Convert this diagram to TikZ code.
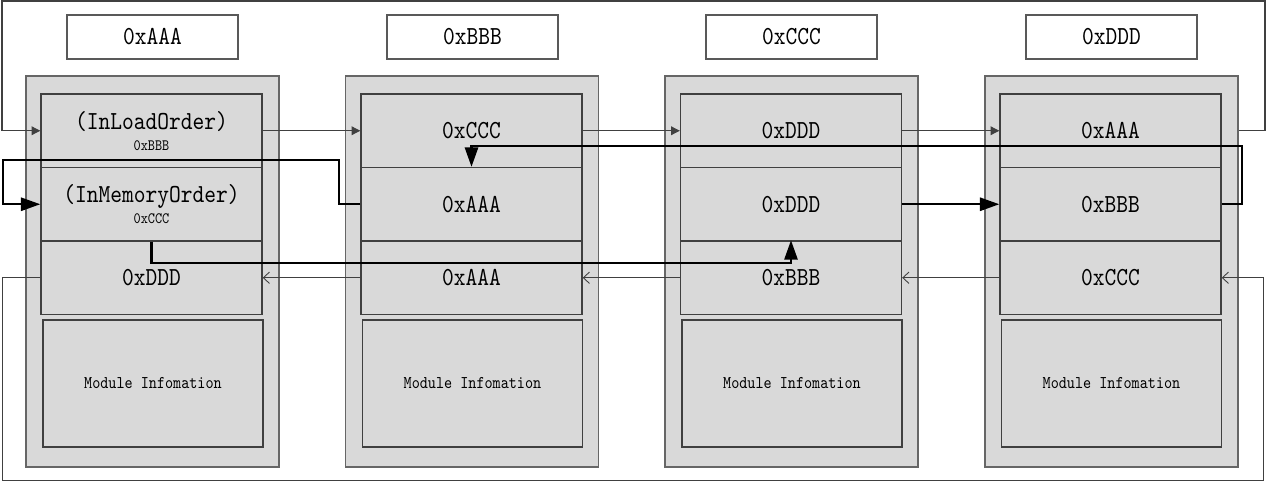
\documentclass[tikz,border=0pt]{standalone}
\usepackage{fontspec}
\newfontfamily\hexfont[FakeStretch=0.86]{lmmono10-regular.otf}
\newcommand{\smallhex}{\fontsize{9}{10}\selectfont}
\usetikzlibrary{arrows.meta}

\begin{document}
\begin{tikzpicture}[
				font=\hexfont\fontsize{14.8}{17}\selectfont,
				block/.style={
					rectangle, draw=black!60, fill=black!15,
					line width=1pt, inner sep=0pt,
					minimum width=5.06cm, minimum height=7.82cm
				},
				addr/.style={
					rectangle, draw=black!65, fill=white,
					line width=0.8pt, inner sep=0pt,
					minimum width=3.42cm, minimum height=0.88cm
				},
				entry/.style={
					rectangle, draw=black!75, fill=black!15,
					line width=0.8pt, inner sep=0pt, align=center,
					minimum width=4.42cm, minimum height=1.47cm
				},
				info/.style={
					rectangle, draw=black!75, fill=black!15,
					line width=0.8pt, inner sep=0pt,
					minimum width=4.40cm, minimum height=2.54cm,
					font=\hexfont\fontsize{10.2}{12}\selectfont
				},
				loadarr/.style={-{Triangle[length=5pt,width=5pt]}, line width=0.6pt, black!75},
				initarr/.style={-{Straight Barb[length=3.5pt,width=6.5pt]}, line width=0.5pt, black!75},
				memarr/.style={-{Triangle[length=11pt,width=7.5pt]}, line width=1.2pt, black}
				]
				\useasboundingbox (0,0) rectangle (25.36,-9.64);
				
				% first module
				\node[addr] (h1) at (3.05,-0.74) {0xAAA};
				\node[block] (b1) at (3.05,-5.43) {};
				\node[entry] (r11) at (3.03,-2.615) {(InLoadOrder)\\[-5pt]{\smallhex 0xBBB}};
				\node[entry] (r12) at (3.03,-4.085) {(InMemoryOrder)\\[-5pt]{\smallhex 0xCCC}};
				\node[entry] (r13) at (3.03,-5.555) {0xDDD};
				\node[info] (m1) at (3.06,-7.67) {Module Infomation};
				
				% second module
				\node[addr] (h2) at (9.45,-0.74) {0xBBB};
				\node[block] (b2) at (9.44,-5.43) {};
				\node[entry] (r21) at (9.43,-2.615) {0xCCC};
				\node[entry] (r22) at (9.43,-4.085) {0xAAA};
				\node[entry] (r23) at (9.43,-5.555) {0xAAA};
				\node[info] (m2) at (9.45,-7.67) {Module Infomation};
				
				% third module
				\node[addr] (h3) at (15.83,-0.74) {0xCCC};
				\node[block] (b3) at (15.83,-5.43) {};
				\node[entry] (r31) at (15.82,-2.615) {0xDDD};
				\node[entry] (r32) at (15.82,-4.085) {0xDDD};
				\node[entry] (r33) at (15.82,-5.555) {0xBBB};
				\node[info] (m3) at (15.84,-7.67) {Module Infomation};
				
				% fourth module
				\node[addr] (h4) at (22.23,-0.74) {0xDDD};
				\node[block] (b4) at (22.23,-5.43) {};
				\node[entry] (r41) at (22.21,-2.615) {0xAAA};
				\node[entry] (r42) at (22.21,-4.085) {0xBBB};
				\node[entry] (r43) at (22.21,-5.555) {0xCCC};
				\node[info] (m4) at (22.23,-7.67) {Module Infomation};
				
				% load order links
				\coordinate (tl) at (0.04,-0.02);
				\coordinate (tr) at (25.30,-0.02);
				\draw[loadarr] (r11.east) -- (r21.west);
				\draw[loadarr] (r21.east) -- (r31.west);
				\draw[loadarr] (r31.east) -- (r41.west);
				\draw[loadarr] (b4.east |- r41.east) -| (tr) -| (tl) |- (r11.west);
				
				% back links, bottom row
				\coordinate (bl) at (0.04,-9.60);
				\coordinate (br) at (25.26,-9.60);
				\draw[initarr] (r23.west) -- (r13.east);
				\draw[initarr] (r33.west) -- (r23.east);
				\draw[initarr] (r43.west) -- (r33.east);
				\draw[initarr] (r13.west) -| (bl) -| (br) |- (r43.east);
				
				% memory order links
				\coordinate (ml) at (0.06,-3.20);
				\coordinate (mr) at (24.84,-2.92);
				\draw[memarr] (r12.south) -- ++(0,-0.42) -| (r33.north);
				\draw[memarr] (r22.west) -- ++(-0.42,0) |- (ml) |- (r12.west);
				\draw[memarr] (r32.east) -- (r42.west);
				\draw[memarr] (r42.east) -| (mr) -| (r22.north);
\end{tikzpicture}
\end{document}
